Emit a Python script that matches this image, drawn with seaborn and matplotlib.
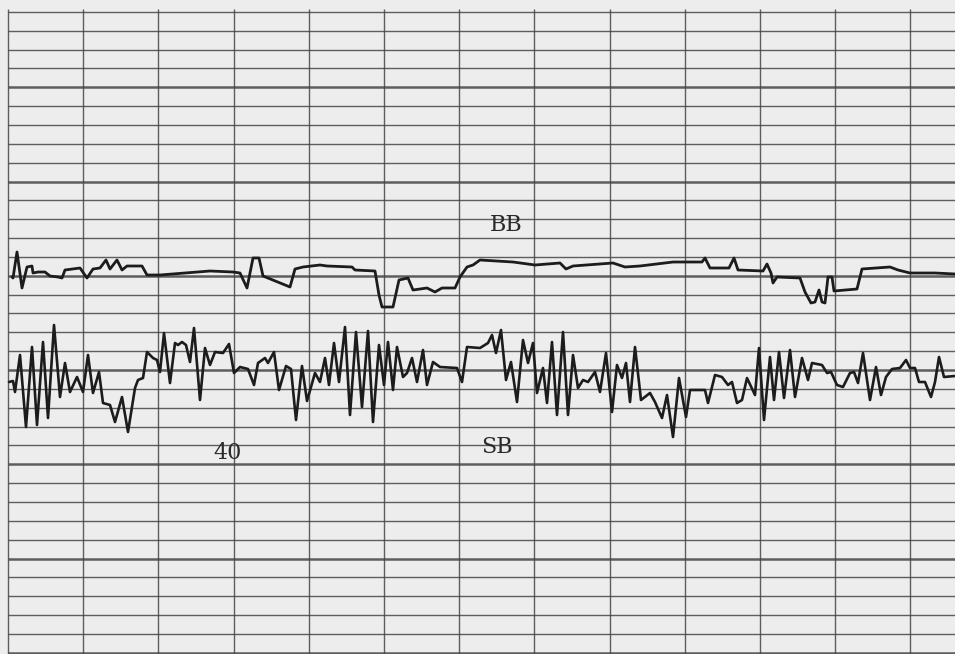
import numpy as np
import pandas as pd
import seaborn as sns
import matplotlib.pyplot as plt

# ------------------------
# Traçados lidos do registro (x = posição no papel, y = deflexão)
# ------------------------
BB_X = [12, 13, 17, 22, 27, 32, 33, 38, 45, 50, 58, 62, 65, 80, 87, 93, 100, 106, 110, 117,
        122, 127, 142, 147, 160, 210, 233, 240, 247, 253, 259, 263, 290, 295, 303, 320, 327,
        352, 355, 375, 379, 382, 393, 399, 408, 413, 427, 435, 442, 455, 460, 467, 473, 480,
        513, 535, 560, 566, 573, 613, 625, 640, 673, 702, 705, 710, 729, 734, 738, 763, 767,
        771, 773, 777, 800, 805, 811, 815, 819, 822, 825, 828, 832, 834, 857, 862, 890, 898,
        910, 935, 955]
BB_Y = [93, 92, 118, 82, 103, 104, 97, 98, 98, 94, 93, 92, 100, 102, 92, 101, 102, 110, 101, 110,
        100, 104, 104, 95, 95, 99, 98, 97, 82, 112, 112, 94, 83, 101, 103, 105, 104,
        103, 100, 99, 75, 63, 63, 90, 92, 80, 82, 78, 82, 82, 93, 103, 105, 110,
        108, 105, 107, 101, 104, 107, 103, 104, 108, 108, 112, 102, 102, 112, 100, 99, 106,
        97, 87, 93, 92, 78, 67, 68, 80, 68, 67, 93, 93, 79, 81, 101, 103, 100,
        97, 97, 96]

SB_X = [9, 13, 15, 20, 26, 32, 37, 43, 48, 54, 60, 65, 70, 77, 83, 88, 93, 99, 103, 110,
        115, 122, 128, 135, 138, 143, 147, 153, 157, 160, 164, 170, 175, 178, 182, 186, 190,
        194, 200, 205, 210, 215, 223, 229, 234, 240, 248, 254, 258, 265, 268, 274, 279, 286,
        291, 296, 302, 307, 315, 320, 325, 329, 334, 339, 345, 350, 356, 362, 368, 373, 379,
        384, 388, 393, 397, 403, 407, 412, 417, 423, 427, 433, 440, 457, 462, 467, 480, 488,
        492, 496, 501, 506, 511, 517, 523, 528, 533, 537, 543, 547, 552, 557, 563, 568, 573,
        578, 583, 588, 595, 600, 606, 612, 617, 622, 626, 630, 635, 641, 650, 655, 662, 667,
        673, 679, 686, 690, 705, 708, 715, 722, 728, 732, 737, 742, 747, 755, 759, 764, 770,
        774, 779, 784, 790, 795, 802, 808, 812, 822, 827, 831, 837, 843, 850, 854, 858, 863,
        870, 876, 881, 886, 892, 900, 906, 910, 915, 919, 925, 931, 935, 939, 944, 955]
SB_Y = [-12, -11, -22, 15, -57, 23, -55, 28, -48, 45, -27, 7, -22, -7, -22, 15, -23, -2, -33, -35,
        -52, -27, -62, -18, -10, -8, 18, 12, 10, -2, 37, -13, 27, 25, 28, 25, 8,
        42, -30, 22, 5, 18, 17, 26, -3, 3, 1, -15, 7, 12, 7, 18, -20, 4,
        1, -50, 4, -31, -3, -12, 12, -15, 27, -12, 43, -45, 38, -37, 39, -52, 25,
        -15, 28, -20, 23, -7, -3, 12, -12, 20, -15, 8, 3, 2, -12, 23, 22, 27,
        35, 17, 40, -10, 8, -32, 30, 7, 27, -23, 2, -33, 28, -45, 38, -45, 15,
        -18, -10, -12, -2, -22, 17, -42, 5, -8, 7, -32, 23, -30, -23, -32, -48, -25,
        -67, -8, -47, -20, -20, -33, -5, -7, -15, -12, -33, -30, -8, -25, 22, -50, 13,
        -30, 18, -28, 20, -27, 12, -10, 7, 5, -3, -2, -15, -17, -3, -2, -13, 17,
        -30, 3, -25, -7, 1, 2, 10, 2, 2, -12, -12, -27, -12, 13, -7, -6]

# Anotações do registro
LABELS = ["BB", "SB", "40"]
LABEL_X = [506, 497, 228]
LABEL_Y = [145, -77, -83]

# ------------------------
# Papel quadriculado
# ------------------------
X_MIN, X_MAX = 0, 955
Y_MIN, Y_MAX = -284, 370
COL_STEP, COL_START, N_COLS = 75.2, 8, 13
ROW_STEP, ROW_FIRST, ROW_LAST = 18.85, -15, 19

sns.set_style("white")
fig = plt.figure(figsize=(9.55, 6.54), dpi=100)
ax = fig.add_axes([0, 0, 1, 1])
ax.set_facecolor("#ededed")
fig.patch.set_facecolor("#f2f2f2")

grid_col = "#454545"
rows = np.arange(ROW_FIRST, ROW_LAST + 1)
ax.hlines(rows[rows % 5 != 0] * ROW_STEP, COL_START, X_MAX, color=grid_col,
          lw=1.0, alpha=0.85, zorder=1)
ax.hlines(rows[rows % 5 == 0] * ROW_STEP, COL_START, X_MAX, color=grid_col,
          lw=1.8, alpha=0.85, zorder=1)
ax.vlines(COL_START + np.arange(N_COLS) * COL_STEP, ROW_FIRST * ROW_STEP - 3,
          ROW_LAST * ROW_STEP + 3, color=grid_col, lw=1.0, alpha=0.85, zorder=1)

bb = pd.DataFrame({"x": BB_X, "y": BB_Y})
sb = pd.DataFrame({"x": SB_X, "y": SB_Y})
for df, w in [(bb, 2.0), (sb, 1.9)]:
    sns.lineplot(data=df, x="x", y="y", ax=ax, sort=False, estimator=None,
                 color="#1c1c1c", lw=w, zorder=3,
                 solid_joinstyle="round", solid_capstyle="round")

for txt, tx, ty in zip(LABELS, LABEL_X, LABEL_Y):
    ax.text(tx, ty, txt, ha="center", va="center", fontsize=16,
            family="DejaVu Serif", color="#2a2a2a", zorder=4)

ax.set_xlim(X_MIN, X_MAX)
ax.set_ylim(Y_MIN, Y_MAX)
ax.set_xlabel("")
ax.set_ylabel("")
ax.set_xticks([])
ax.set_yticks([])
for s in ax.spines.values():
    s.set_visible(False)

fig.savefig("out.png", dpi=100)
